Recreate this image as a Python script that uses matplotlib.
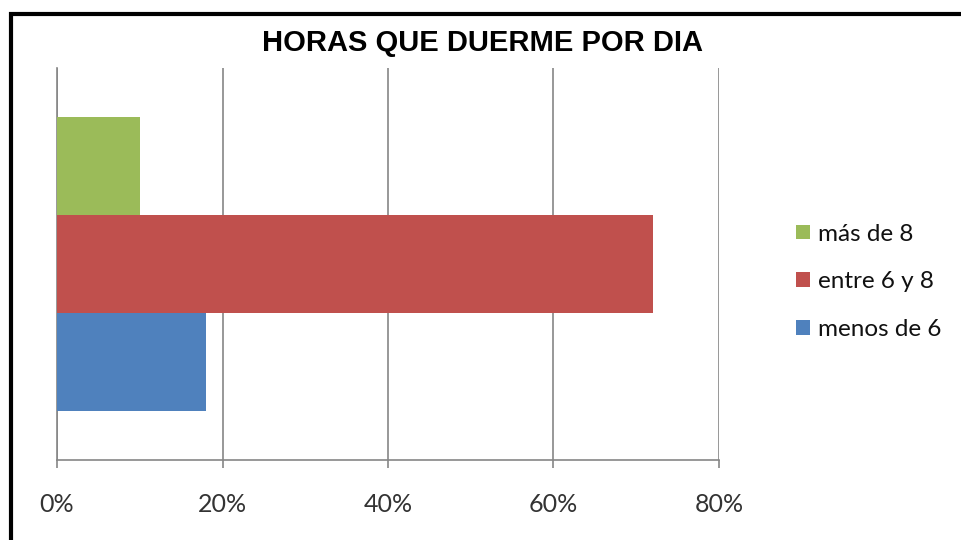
import matplotlib.pyplot as plt
from matplotlib.patches import Rectangle
from matplotlib.ticker import PercentFormatter

# Datos: porcentaje de personas por horas de sueño
categorias = ["menos de 6", "entre 6 y 8", "más de 8"]
porcentajes = [18, 72, 10]
colores = ["#4F81BD", "#C0504D", "#9BBB59"]
ticks_x = [0, 20, 40, 60, 80]

fig = plt.figure(figsize=(9.62, 5.40), dpi=100)
ax = fig.add_axes([0.0593, 0.148, 0.688, 0.726])

# Barras agrupadas en una sola categoria
alto = 0.25
posiciones = [-alto, 0, alto]
barras = []
for pos, val, col, cat in zip(posiciones, porcentajes, colores, categorias):
    b = ax.barh(pos, val, height=alto, color=col, label=cat, zorder=3)
    barras.append(b)

ax.set_xlim(0, 80)
ax.set_ylim(-0.5, 0.5)
ax.set_xticks(ticks_x)
ax.xaxis.set_major_formatter(PercentFormatter(decimals=0))
ax.set_yticks([])
ax.grid(axis="x", color="#868686", linewidth=1.2, zorder=0)
for lado in ["top", "right"]:
    ax.spines[lado].set_visible(False)
for lado in ["left", "bottom"]:
    ax.spines[lado].set_color("#868686")
    ax.spines[lado].set_linewidth(1.2)
ax.tick_params(axis="x", direction="out", length=6, width=1.2, color="#868686",
               pad=18, labelsize=18, labelcolor="#333333")
for lbl in ax.get_xticklabels():
    lbl.set_fontfamily("Lato")

fig.text(0.502, 0.92, "HORAS QUE DUERME POR DIA", ha="center", va="center",
         fontsize=21, fontweight="bold", fontfamily="Liberation Sans")

# Leyenda en orden inverso (verde arriba)
leg = fig.legend(barras[::-1], categorias[::-1], loc="center left",
                 bbox_to_anchor=(0.805, 0.478), frameon=False,
                 prop={"family": "Lato", "size": 17.5}, handlelength=0.55,
                 handleheight=0.55, handletextpad=0.35, labelspacing=1.1)
for t in leg.get_texts():
    t.set_color("#111111")

# Marco del grafico
fig.patches.append(Rectangle((11 / 962, -0.1), 1.1, 1 - 13.5 / 540 + 0.1,
                             transform=fig.transFigure, fill=False,
                             edgecolor="black", linewidth=3))

fig.savefig("out.png", dpi=100)
